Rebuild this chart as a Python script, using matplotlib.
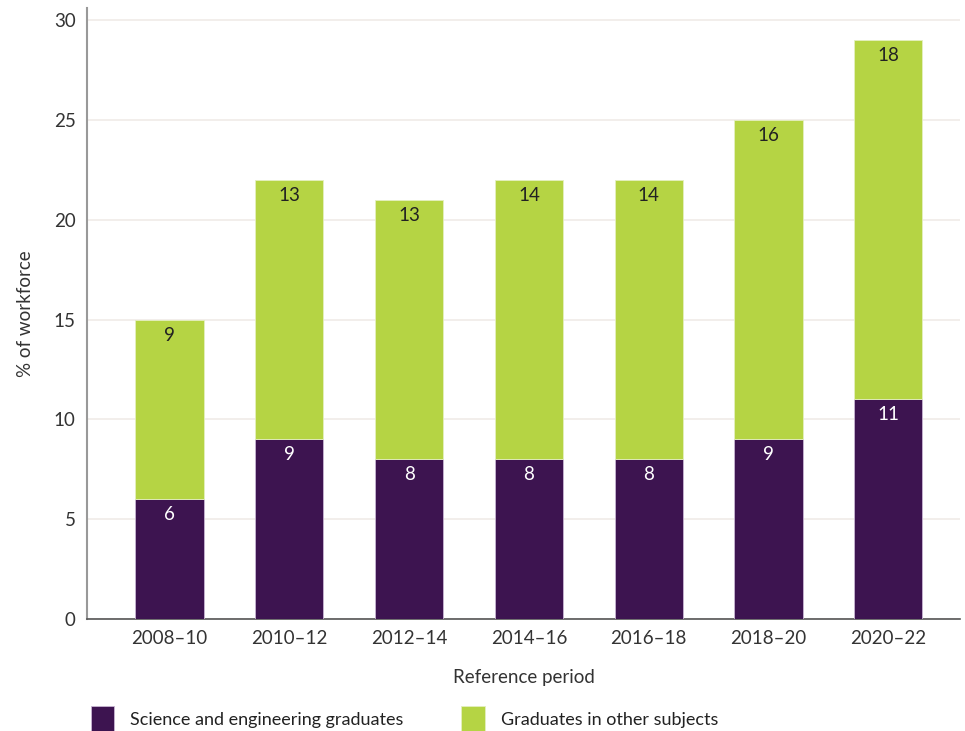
import matplotlib.pyplot as plt
import numpy as np

periods = ['2008\u201310', '2010\u201312', '2012\u201314', '2014\u201316',
           '2016\u201318', '2018\u201320', '2020\u201322']
science = [6, 9, 8, 8, 8, 9, 11]
other = [9, 13, 13, 14, 14, 16, 18]

purple = '#3d1450'
green = '#b5d444'
text_col = '#333333'

plt.rcParams['font.family'] = ['Lato', 'DejaVu Sans']

fig = plt.figure(figsize=(9.65, 7.31), dpi=100)
ax = fig.add_axes([0.090, 0.153, 0.905, 0.836])

x = np.arange(len(periods))
w = 0.57
ax.bar(x, science, w, color=purple, edgecolor='#c9b6d3', linewidth=0.6, zorder=3,
       label='Science and engineering graduates')
ax.bar(x, other, w, bottom=science, color=green, edgecolor='#e4efbf', linewidth=0.6,
       zorder=3, label='Graduates in other subjects')

for xi, s, o in zip(x, science, other):
    ax.text(xi, s - 0.75, str(s), ha='center', va='center', color='white',
            fontsize=13.5, zorder=4)
    ax.text(xi, s + o - 0.8, str(o), ha='center', va='center', color='#222222',
            fontsize=13.5, zorder=4)

ax.set_xlim(-0.69, 6.6)
ax.set_ylim(0, 30.6)
ax.set_yticks(range(0, 31, 5))
ax.set_xticks(x)
ax.set_xticklabels(periods)
ax.yaxis.grid(True, color='#f0ebe8', linewidth=1.2, zorder=0)
ax.set_axisbelow(True)

for side in ['top', 'right']:
    ax.spines[side].set_visible(False)
ax.spines['left'].set_color('#999999')
ax.spines['left'].set_linewidth(1.5)
ax.spines['bottom'].set_color('#555555')
ax.spines['bottom'].set_linewidth(1.2)
ax.tick_params(axis='both', length=0, labelsize=13.5, colors=text_col, pad=8)

ax.set_xlabel('Reference period', fontsize=13.5, color=text_col, labelpad=16)
ax.set_ylabel('% of workforce', fontsize=13.5, color=text_col, labelpad=14)

fig.legend(loc='lower left', bbox_to_anchor=(0.077, -0.022), ncol=2, frameon=False,
           fontsize=13, handlelength=1.3, handleheight=1.7, handletextpad=0.9,
           columnspacing=3.2, labelcolor='#222222')

plt.savefig('out.png', dpi=100)
